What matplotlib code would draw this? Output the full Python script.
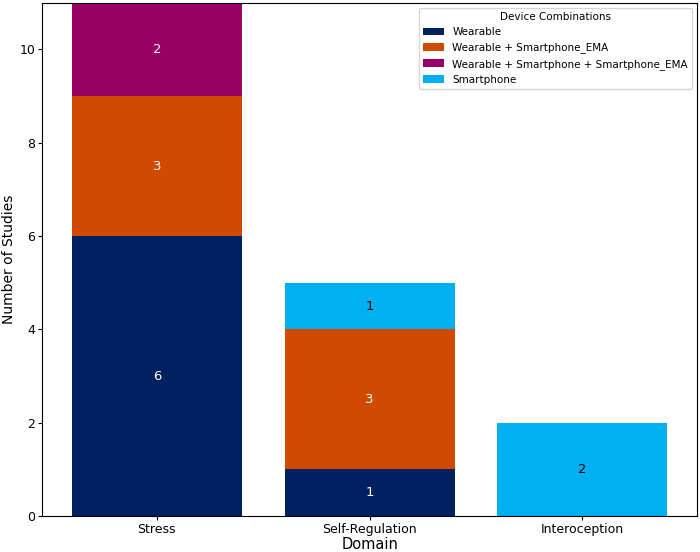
import matplotlib
matplotlib.use("Agg")
import matplotlib.pyplot as plt
import numpy as np

domains = ["Stress", "Self-Regulation", "Interoception"]
combos = ["Wearable", "Wearable + Smartphone_EMA",
          "Wearable + Smartphone + Smartphone_EMA", "Smartphone"]
counts = {
    "Wearable": [6, 1, 0],
    "Wearable + Smartphone_EMA": [3, 3, 0],
    "Wearable + Smartphone + Smartphone_EMA": [2, 0, 0],
    "Smartphone": [0, 1, 2],
}
colors = ["#002060", "#D04A02", "#990066", "#00B0F0"]
text_colors = ["white", "white", "white", "black"]

fig, ax = plt.subplots(figsize=(7, 5.52), dpi=100)
x = np.arange(len(domains))
bottom = np.zeros(len(domains))
for combo, color, tc in zip(combos, colors, text_colors):
    vals = np.array(counts[combo], dtype=float)
    bars = ax.bar(x, vals, bottom=bottom, color=color, label=combo, width=0.8)
    for b, v, y0 in zip(bars, vals, bottom):
        if v > 0:
            ax.text(b.get_x() + b.get_width() / 2, y0 + v / 2, f"{int(v)}",
                    ha="center", va="center", color=tc, fontsize=9.5)
    bottom += vals

ax.set_xticks(x)
ax.set_xticklabels(domains)
ax.tick_params(labelsize=9, length=3, pad=2)
ax.set_ylim(0, 11)
ax.set_xlabel("Domain", fontsize=10.5, labelpad=1)
ax.set_ylabel("Number of Studies", fontsize=10, labelpad=2)
ax.legend(title="Device Combinations", fontsize=7.5, title_fontsize=7.5, loc="upper right")
fig.subplots_adjust(left=0.06, right=0.996, bottom=0.065, top=0.995)
fig.savefig("out.png", dpi=100)
